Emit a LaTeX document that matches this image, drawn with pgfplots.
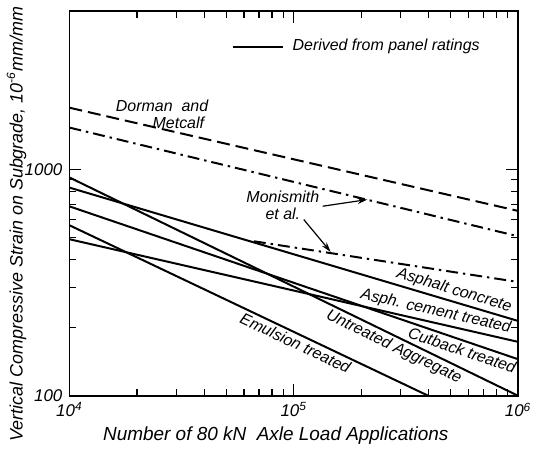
\documentclass[border=0pt]{standalone}
\usepackage{fontspec}
\setmainfont{Liberation Sans}
\usepackage{pgfplots}
\pgfplotsset{compat=1.18}
\usetikzlibrary{arrows.meta}
\begin{document}
\itshape
\begin{tikzpicture}
\begin{axis}[name=ax,
  xmode=log, ymode=log,
  scale only axis, width=225pt, height=193pt,
  xmin=1e4, xmax=1e6, ymin=100, ymax=5000,
  xtick={1e4,1e5,1e6},
  xticklabels={10\textsuperscript{4},10\textsuperscript{5},10\textsuperscript{6}},
  ytick={100,1000}, yticklabels={100,1000},
  major tick length=6pt, minor tick length=3.5pt,
  axis line style={line width=0.9pt},
  every tick/.style={black, line width=0.6pt},
  tick label style={font=\fontsize{8.5}{10}\selectfont\itshape},
  xlabel={Number of 80 kN\ \ Axle Load Applications},
  ylabel={Vertical Compressive Strain on Subgrade, 10\textsuperscript{-6}mm/mm},
  xlabel style={font=\fontsize{9.5}{11}\selectfont\itshape, at={(axis description cs:0.46,-0.104)}, anchor=center},
  ylabel style={font=\fontsize{9}{11}\selectfont\itshape, at={(axis description cs:-0.118,0.446)}, anchor=center},
  clip=false,
]
% Derived from panel ratings (solid)
\addplot[line width=1pt] coordinates {(1e4,920) (1e6,100)};      % Untreated Aggregate
\addplot[line width=1pt] coordinates {(1e4,830) (1e6,214)};      % Asphalt concrete
\addplot[line width=1pt] coordinates {(1e4,686) (1e6,145)};      % Cutback treated
\addplot[line width=1pt] coordinates {(1e4,566) (3.98e5,100)};   % Emulsion treated
\addplot[line width=1pt] coordinates {(1e4,491) (1e6,173)};      % Asph. cement treated
% Dorman and Metcalf
\addplot[line width=1pt, dash pattern=on 6.5pt off 3pt] coordinates {(1e4,1870) (1e6,655)};
% Monismith et al.
\addplot[line width=1pt, dash pattern=on 6pt off 2.5pt on 1.2pt off 2.5pt] coordinates {(1e4,1528) (1e6,506)};
\addplot[line width=1pt, dash pattern=on 6pt off 2.5pt on 1.2pt off 2.5pt] coordinates {(6.64e4,481) (1e6,318)};

\begin{scope}[font=\fontsize{8}{8.5}\selectfont\itshape]
\node[rotate=-16.7, anchor=south, inner sep=1.5pt] at (axis cs:5.03e5,262) {Asphalt concrete};
\node[rotate=-12.9, anchor=south, inner sep=1.5pt] at (axis cs:4.19e5,211) {Asph. cement treated};
\node[rotate=-18.8, anchor=north, inner sep=1.5pt] at (axis cs:5.81e5,174) {Cutback treated};
\node[rotate=-25.9, anchor=north, inner sep=1.5pt] at (axis cs:2.93e5,181) {Untreated Aggregate};
\node[rotate=-25.2, anchor=north, inner sep=1.5pt] at (axis cs:1.06e5,186) {Emulsion treated};
\node[align=left, anchor=west] at (axis cs:1.5e4,1742) {Dorman\ \ and\\\hspace*{2.3em}Metcalf};
\node[align=center] at (axis cs:8.94e4,693) {Monismith\\et al.};
\draw[line width=0.6pt, -{Stealth[length=5pt,width=3pt]}] (axis cs:1.346e5,687) -- (axis cs:2.13e5,735);
\draw[line width=0.6pt, -{Stealth[length=5pt,width=3pt]}] (axis cs:1.108e5,600) -- (axis cs:1.46e5,432);
\draw[line width=1pt] (rel axis cs:0.364,0.907) -- (rel axis cs:0.476,0.907)
  node[right, xshift=1pt] {Derived from panel ratings};
\end{scope}
\end{axis}
\path ([shift={(-34pt,-29pt)}]ax.south west) rectangle ([shift={(10.5pt,5.5pt)}]ax.north east);
\end{tikzpicture}
\end{document}
